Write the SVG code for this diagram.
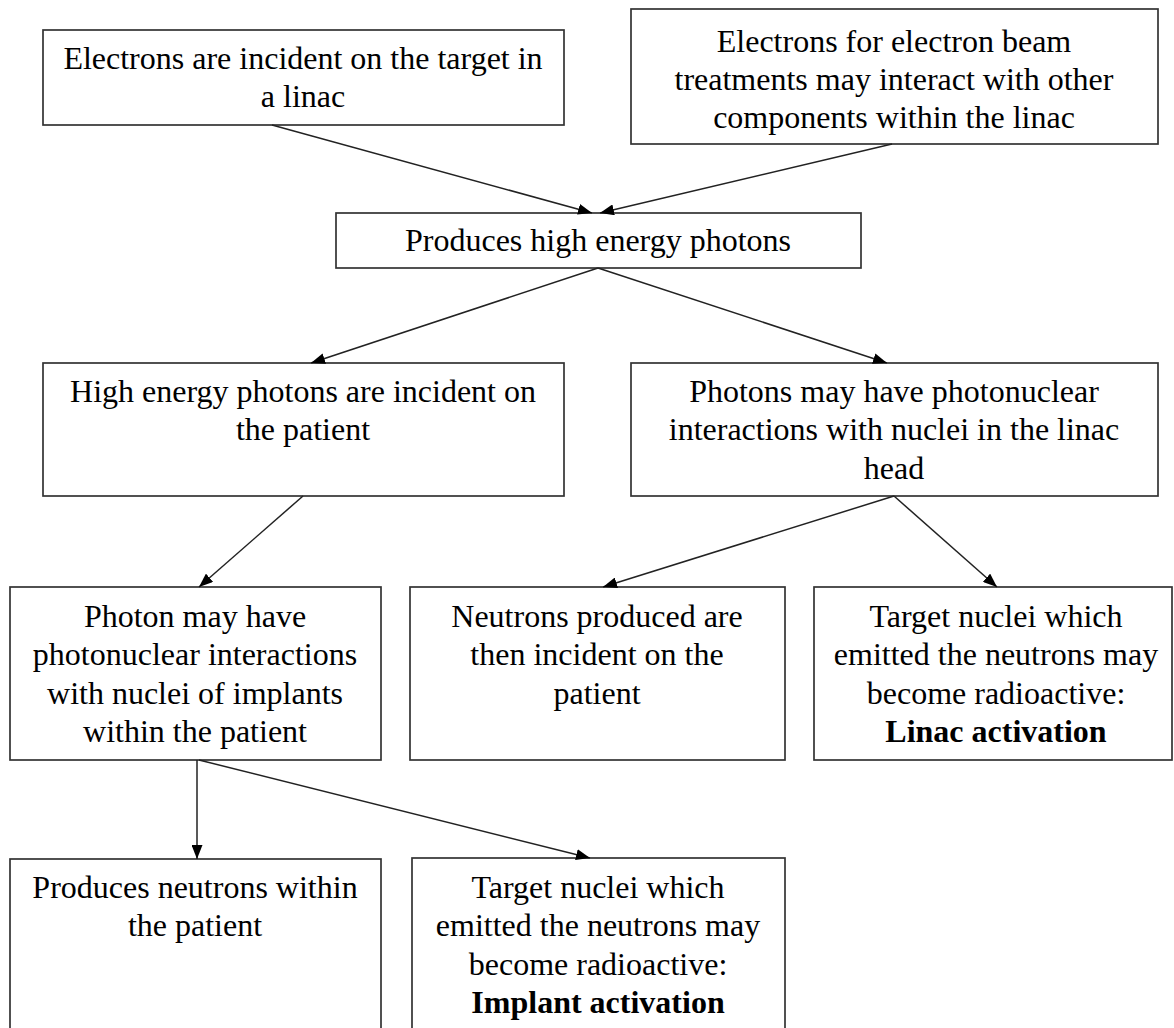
<svg xmlns="http://www.w3.org/2000/svg" width="1174" height="1028" viewBox="0 0 1174 1028">
  <style>
    .box { fill: #ffffff; stroke: #333333; stroke-width: 1.7; }
    .lbl { font-family: 'Times New Roman', 'Liberation Serif', 'DejaVu Serif', serif; font-size: 32px; fill: #000000; text-anchor: middle; }
    .b { font-weight: bold; }
    .edge { fill: none; stroke: #222222; stroke-width: 1.5; marker-end: url(#head); }
  </style>
  <defs>
    <!-- filled triangular arrowhead shared by every connector -->
    <marker id="head" viewBox="0 0 14 11" refX="14" refY="5.5" markerWidth="14" markerHeight="11" markerUnits="userSpaceOnUse" orient="auto">
      <path d="M0,0 L14,5.5 L0,11 Z" fill="#000000"/>
    </marker>
  </defs>
  <rect width="1174" height="1028" fill="#ffffff"/>

  <g id="n1">
    <rect class="box" x="43" y="30" width="521" height="95"/>
    <text class="lbl" x="303" y="69">Electrons are incident on the target in</text>
    <text class="lbl" x="303" y="107">a linac</text>
  </g>

  <g id="n2">
    <rect class="box" x="631" y="9" width="527" height="135"/>
    <text class="lbl" x="894" y="52">Electrons for electron beam</text>
    <text class="lbl" x="894" y="90">treatments may interact with other</text>
    <text class="lbl" x="894" y="128">components within the linac</text>
  </g>

  <g id="n3">
    <rect class="box" x="336" y="213" width="525" height="55"/>
    <text class="lbl" x="598" y="251">Produces high energy photons</text>
  </g>

  <g id="n4">
    <rect class="box" x="43" y="363" width="521" height="133"/>
    <text class="lbl" x="303" y="402">High energy photons are incident on</text>
    <text class="lbl" x="303" y="440">the patient</text>
  </g>

  <g id="n5">
    <rect class="box" x="631" y="363" width="527" height="133"/>
    <text class="lbl" x="894" y="402">Photons may have photonuclear</text>
    <text class="lbl" x="894" y="440">interactions with nuclei in the linac</text>
    <text class="lbl" x="894" y="479">head</text>
  </g>

  <g id="n6">
    <rect class="box" x="10" y="587" width="371" height="173"/>
    <text class="lbl" x="195" y="627">Photon may have</text>
    <text class="lbl" x="195" y="665">photonuclear interactions</text>
    <text class="lbl" x="195" y="704">with nuclei of implants</text>
    <text class="lbl" x="195" y="742">within the patient</text>
  </g>

  <g id="n7">
    <rect class="box" x="410" y="587" width="375" height="173"/>
    <text class="lbl" x="597" y="627">Neutrons produced are</text>
    <text class="lbl" x="597" y="665">then incident on the</text>
    <text class="lbl" x="597" y="704">patient</text>
  </g>

  <g id="n8">
    <rect class="box" x="814" y="587" width="358" height="173"/>
    <text class="lbl" x="996" y="627">Target nuclei which</text>
    <text class="lbl" x="996" y="665">emitted the neutrons may</text>
    <text class="lbl" x="996" y="704">become radioactive:</text>
    <text class="lbl b" x="996" y="742">Linac activation</text>
  </g>

  <g id="n9">
    <rect class="box" x="10" y="859" width="371" height="180"/>
    <text class="lbl" x="195" y="898">Produces neutrons within</text>
    <text class="lbl" x="195" y="936">the patient</text>
  </g>

  <g id="n10">
    <rect class="box" x="412" y="858" width="373" height="181"/>
    <text class="lbl" x="598" y="898">Target nuclei which</text>
    <text class="lbl" x="598" y="936">emitted the neutrons may</text>
    <text class="lbl" x="598" y="975">become radioactive:</text>
    <text class="lbl b" x="598" y="1013">Implant activation</text>
  </g>

  <g id="connectors">
    <line class="edge" x1="272" y1="125" x2="592" y2="213"/>
    <line class="edge" x1="892" y1="144" x2="600" y2="213"/>
    <line class="edge" x1="598" y1="268" x2="311" y2="363"/>
    <line class="edge" x1="598" y1="268" x2="887" y2="363"/>
    <line class="edge" x1="303" y1="496" x2="199" y2="587"/>
    <line class="edge" x1="894" y1="496" x2="603" y2="587"/>
    <line class="edge" x1="894" y1="496" x2="997" y2="587"/>
    <line class="edge" x1="197" y1="760" x2="197" y2="859"/>
    <line class="edge" x1="199" y1="760" x2="590" y2="858"/>
  </g>
</svg>
